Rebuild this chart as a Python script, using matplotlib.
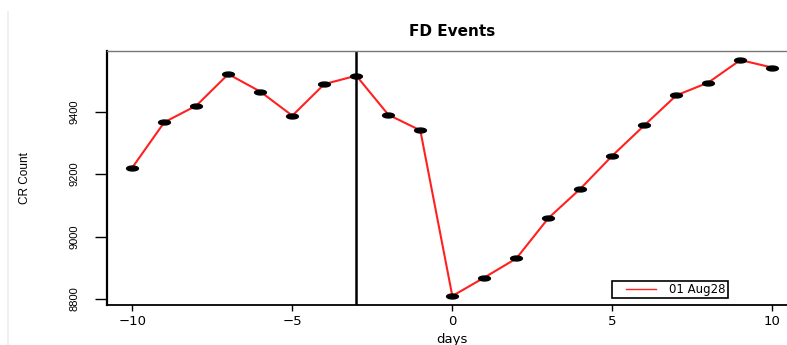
import matplotlib.pyplot as plt
import numpy as np
from matplotlib.legend_handler import HandlerLine2D
from matplotlib.lines import Line2D
from matplotlib.path import Path

# daily cosmic-ray counts around the Forbush decrease
days = [-10, -9, -8, -7, -6, -5, -4, -3, -2, -1, 0,
        1, 2, 3, 4, 5, 6, 7, 8, 9, 10]
cr_count = [9221, 9366, 9419, 9520, 9464, 9387, 9488, 9515, 9390, 9340, 8810,
            8869, 8930, 9059, 9153, 9259, 9356, 9452, 9493, 9565, 9541]
event_day = -3
event_label = '01 Aug28'

x_ticks = [-10, -5, 0, 5, 10]
y_ticks = [8800, 9000, 9200, 9400]

narrow = ['Liberation Sans Narrow', 'Liberation Sans', 'DejaVu Sans']
wide = ['DejaVu Sans']


def oval_marker(aspect=2.4):
    t = np.linspace(0, 2 * np.pi, 40)
    verts = np.column_stack([np.cos(t) * aspect, np.sin(t)])
    return Path(verts, closed=True)


def main():
    fig = plt.figure(figsize=(7.87, 3.45), dpi=100)
    # axes runs slightly past the right edge of the canvas
    ax = fig.add_axes([0.1356, 0.1167, 0.8783, 0.7355])

    ax.plot(days, cr_count, color='#ff2020', lw=1.5, zorder=2)
    ax.plot(days, cr_count, ls='none', marker=oval_marker(), ms=8.5,
            color='black', zorder=3)
    ax.axvline(event_day, color='black', lw=1.8, zorder=1)

    ax.set_xlim(-10.8, 10.8)
    ax.set_ylim(8782, 9594)

    ax.set_xticks(x_ticks)
    ax.set_xticklabels([str(v).replace('-', '\u2212') for v in x_ticks],
                       family=wide, fontsize=9.5)
    ax.set_yticks(y_ticks)
    ax.set_yticklabels([str(v) for v in y_ticks], family=narrow, fontsize=8,
                       rotation=90, va='center')
    ax.tick_params(axis='x', length=4.3, width=1.0, pad=3.3)
    ax.tick_params(axis='y', length=9, width=1.0, pad=10.5)

    ax.spines['left'].set_linewidth(1.6)
    ax.spines['bottom'].set_linewidth(1.3)
    ax.spines['top'].set_color('#777777')
    ax.spines['top'].set_linewidth(1.0)

    ax.set_title('FD Events', family=wide, fontweight='bold', fontsize=11, pad=11)
    ax.set_xlabel('days', family=wide, fontsize=9.5, va='center')
    ax.xaxis.set_label_coords(0.5, -0.138)
    ax.set_ylabel('CR Count', family=narrow, fontsize=8.5, va='center')
    ax.yaxis.set_label_coords(-0.118, 0.5)

    handle = Line2D([], [], color='#ff2020', lw=1.0)
    ax.legend([handle], [event_label], loc='upper left',
              bbox_to_anchor=(612 / 787, 1 - 281 / 345),
              bbox_transform=fig.transFigure, borderaxespad=0,
              fancybox=False, framealpha=1, edgecolor='black',
              borderpad=0.15, handlelength=3.6, handletextpad=1.1,
              prop={'family': wide, 'size': 8.5},
              handler_map={handle: HandlerLine2D(xpad=1.05)})
    ax.get_legend().get_frame().set_linewidth(1.2)

    # faint border on the left of the canvas
    fig.add_artist(Line2D([8 / 787, 8 / 787], [0, 1 - 12 / 345],
                          transform=fig.transFigure, color='#ececec', lw=1.2))

    fig.savefig('out.png', dpi=100)


if __name__ == '__main__':
    main()
